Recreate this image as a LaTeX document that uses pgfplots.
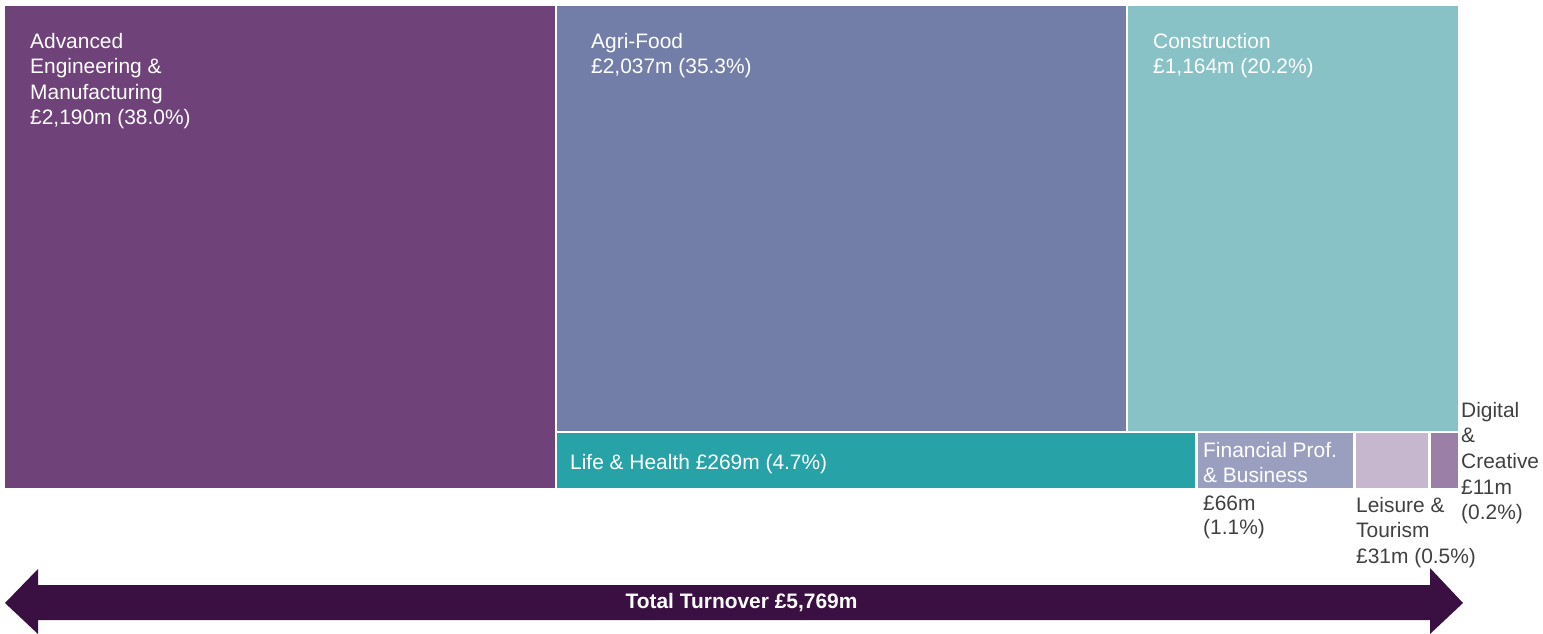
\documentclass[border=0pt]{standalone}
\usepackage{pgfplots}
\pgfplotsset{compat=1.18}
\usepackage{fontspec}
\setmainfont{Liberation Sans}

\definecolor{aem}{HTML}{6F437A}
\definecolor{agri}{HTML}{737EA8}
\definecolor{constr}{HTML}{88C2C6}
\definecolor{life}{HTML}{27A3A7}
\definecolor{fin}{HTML}{9A9FC0}
\definecolor{leis}{HTML}{C6B7CF}
\definecolor{digi}{HTML}{9C7FA6}
\definecolor{arrowc}{HTML}{3A1043}
\definecolor{txt}{HTML}{404040}

\begin{document}
\begin{tikzpicture}[
    lab/.style={anchor=base west, inner sep=0pt, font=\fontsize{21}{25}\selectfont},
]
\begin{axis}[
    scale only axis,
    width=1543bp, height=634bp,
    xmin=0, xmax=1543, ymin=0, ymax=634,
    y dir=reverse,
    hide axis,
    clip=false,
]
% invisible corners, so the page is the whole axis
\addplot[draw=none, forget plot] coordinates {(0,0) (1543,634)};

% treemap tiles (pixel coordinates, y downwards)
\addplot[fill=aem, draw=none] coordinates {(5,6) (555,6) (555,488) (5,488)} -- cycle;
\addplot[fill=agri, draw=none] coordinates {(557,6) (1126,6) (1126,431) (557,431)} -- cycle;
\addplot[fill=constr, draw=none] coordinates {(1128,6) (1458,6) (1458,431) (1128,431)} -- cycle;
\addplot[fill=life, draw=none] coordinates {(557,433) (1195,433) (1195,488) (557,488)} -- cycle;
\addplot[fill=fin, draw=none] coordinates {(1198,433) (1353,433) (1353,488) (1198,488)} -- cycle;
\addplot[fill=leis, draw=none] coordinates {(1356,433) (1428,433) (1428,488) (1356,488)} -- cycle;
\addplot[fill=digi, draw=none] coordinates {(1431,433) (1458,433) (1458,488) (1431,488)} -- cycle;

% total arrow
\addplot[fill=arrowc, draw=none] coordinates {
    (5,603) (38,569) (38,585) (1430,585) (1430,568) (1463,603)
    (1430,634) (1430,620) (38,620) (38,634)} -- cycle;

% labels
\node[lab, white] at (axis cs:30,48.5) {Advanced};
\node[lab, white] at (axis cs:30,74) {Engineering \&};
\node[lab, white] at (axis cs:30,99.5) {Manufacturing};
\node[lab, white] at (axis cs:30,125) {£2,190m (38.0\%)};

\node[lab, white] at (axis cs:591,48.5) {Agri-Food};
\node[lab, white] at (axis cs:591,74) {£2,037m (35.3\%)};

\node[lab, white] at (axis cs:1153,48.5) {Construction};
\node[lab, white] at (axis cs:1153,74) {£1,164m (20.2\%)};

\node[lab, white] at (axis cs:570,469.5) {Life \& Health £269m (4.7\%)};

\node[lab, white] at (axis cs:1203,457.5) {Financial Prof.};
\node[lab, white] at (axis cs:1203,482.5) {\& Business};
\node[lab, txt] at (axis cs:1203,510.5) {£66m};
\node[lab, txt] at (axis cs:1203,534.5) {(1.1\%)};

\node[lab, txt] at (axis cs:1356,512.5) {Leisure \&};
\node[lab, txt] at (axis cs:1356,537.5) {Tourism};
\node[lab, txt] at (axis cs:1356,563.5) {£31m (0.5\%)};

\node[lab, txt] at (axis cs:1461,417.5) {Digital};
\node[lab, txt] at (axis cs:1461,442.5) {\&};
\node[lab, txt] at (axis cs:1461,468.5) {Creative};
\node[lab, txt] at (axis cs:1461,494.5) {£11m};
\node[lab, txt] at (axis cs:1461,519.5) {(0.2\%)};

\node[anchor=base, inner sep=0pt, white, font=\fontsize{21}{25}\selectfont\bfseries]
    at (axis cs:741.5,608) {Total Turnover £5,769m};
\end{axis}
\end{tikzpicture}
\end{document}
